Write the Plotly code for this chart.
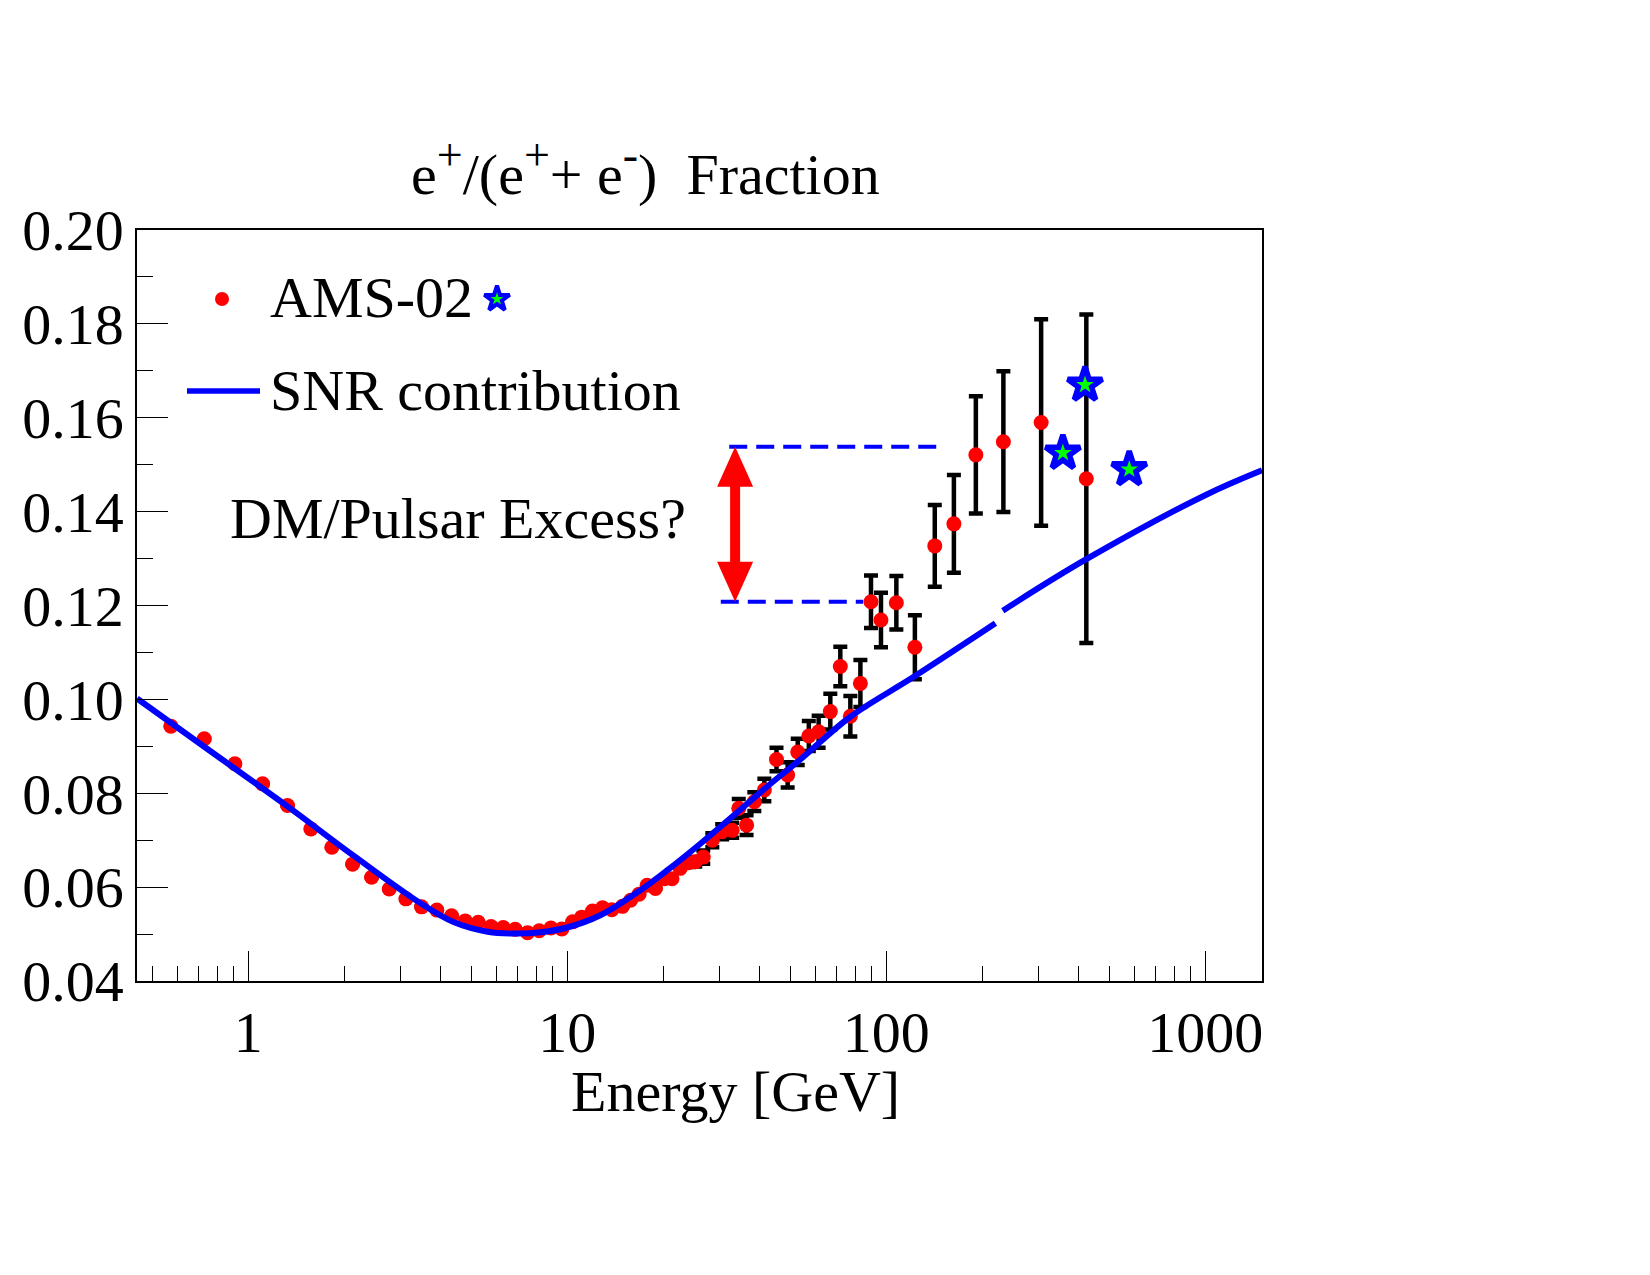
import numpy as np
import plotly.graph_objects as go

# ---------------- data ----------------
E_ams = [0.572, 0.728, 0.908, 1.109, 1.328, 1.572, 1.829, 2.124, 2.436, 2.767,
         3.121, 3.494, 3.903, 4.339, 4.79, 5.26, 5.77, 6.30, 6.87, 7.51,
         8.17, 8.89, 9.62, 10.4, 11.1, 12.0, 12.9, 13.8, 14.9, 15.8,
         16.8, 17.8, 18.9, 20.2, 21.3, 22.6, 24.0, 25.2, 26.7, 28.5,
         30.6, 32.9, 34.5, 36.5, 38.6, 41.5, 45.3, 49.1, 52.8, 57.2,
         61.4, 66.8, 71.8, 77.2, 83.0, 89.6, 96.3, 107.6, 123, 142,
         163, 191, 233, 306, 424]
frac_ams = [0.0943, 0.0916, 0.0863, 0.0820, 0.0774, 0.0724, 0.0685, 0.0649, 0.0621, 0.0596,
            0.0575, 0.0558, 0.0551, 0.0539, 0.0528, 0.0525, 0.0516, 0.0514, 0.0510, 0.0503,
            0.0507, 0.0513, 0.0511, 0.0526, 0.0536, 0.0549, 0.0556, 0.0552, 0.0559, 0.0572,
            0.0585, 0.0604, 0.0597, 0.0618, 0.0618, 0.0640, 0.0652, 0.0654, 0.0664, 0.0700,
            0.0718, 0.0721, 0.0768, 0.0732, 0.0782, 0.0807, 0.0872, 0.0839, 0.0888, 0.0922,
            0.0931, 0.0974, 0.1070, 0.0964, 0.1034, 0.1208, 0.1169, 0.1206, 0.1111, 0.1327,
            0.1374, 0.1521, 0.1549, 0.1590, 0.1470]
err_ams = [0.0] * 36 + [0.0009, 0.0010, 0.0014, 0.0015,
           0.0016, 0.0016, 0.0020, 0.0021, 0.0020, 0.0024, 0.0025, 0.0027, 0.0028, 0.0032,
           0.0034, 0.0038, 0.0042, 0.0043, 0.0050, 0.0056, 0.0058, 0.0057, 0.0068, 0.0087,
           0.0104, 0.0125, 0.0150, 0.0220, 0.0350]
assert len(E_ams) == len(frac_ams) == len(err_ams)

E_star = [358, 420, 578]
frac_star = [0.1525, 0.1670, 0.1490]

E_snr = [0.448, 0.728, 1.328, 2.15, 3.48, 4.42, 5.63, 6.82, 8.27, 10.0,
         12.7, 17.0, 20.6, 26.2, 33.3, 42.3, 53.8, 77.2, 122, 220,
         None, 232, 420, 1000, 1507]
frac_snr = [0.1002, 0.0899, 0.0772, 0.0666, 0.0565, 0.0525, 0.0505, 0.0501, 0.0504, 0.0514,
            0.0540, 0.0594, 0.0636, 0.0693, 0.0753, 0.0814, 0.0872, 0.0963, 0.1048, 0.1162,
            None, 0.1189, 0.1297, 0.1435, 0.1488]

excess_top = 0.1538
excess_bottom = 0.1208
dash_top_E = [32.2, 145]
dash_bottom_E = [30.3, 84.7]
arrow_E = 33.6

x_range = [0.448, 1507]
y_range = [0.04, 0.20]
y_ticks = [0.04, 0.06, 0.08, 0.10, 0.12, 0.14, 0.16, 0.18, 0.20]
x_ticks = [1, 10, 100, 1000]
x_minor = [m * d for d in (0.1, 1, 10, 100) for m in range(2, 10) if 0.448 < m * d < 1507]
y_minor = [0.05, 0.07, 0.09, 0.11, 0.13, 0.15, 0.17, 0.19]

# ---------------- layout geometry ----------------
W, H = 1650, 1275
L, R, T, B = 137, 1262, 230, 981
PW, PH = R - L, B - T
FONT = "Liberation Serif"
FS = 58

def px(xp):
    return (xp - L) / PW

def py(yp):
    return (B - yp) / PH

fig = go.Figure()

# AMS-02 points with error bars
fig.add_trace(go.Scatter(
    x=E_ams, y=frac_ams, mode="markers",
    marker=dict(color="#ff0000", size=15),
    error_y=dict(type="data", array=err_ams, color="black", thickness=4.5, width=7),
    showlegend=False))

# star points
fig.add_trace(go.Scatter(
    x=E_star, y=frac_star, mode="markers",
    marker=dict(symbol="star", size=26, color="#00ff00", line=dict(color="#0000ff", width=5.5)),
    showlegend=False))

# SNR contribution curve
fig.add_trace(go.Scatter(
    x=E_snr, y=frac_snr, mode="lines", connectgaps=False,
    line=dict(color="#0000ff", width=6, shape="spline", smoothing=1.0),
    showlegend=False))

# dashed guide lines
fig.add_trace(go.Scatter(
    x=dash_top_E, y=[excess_top, excess_top], mode="lines",
    line=dict(color="#0000ff", width=4, dash="18px,9px"), showlegend=False))
fig.add_trace(go.Scatter(
    x=dash_bottom_E, y=[excess_bottom, excess_bottom], mode="lines",
    line=dict(color="#0000ff", width=4, dash="18px,9px"), showlegend=False))

# double-headed red arrow (paper x, data y)
lo, hi = np.log10(x_range[0]), np.log10(x_range[1])
xa = (np.log10(arrow_E) - lo) / (hi - lo)
hw = 18 / PW
sw = 5 / PW
hh = 40 * (y_range[1] - y_range[0]) / PH
t, b = excess_top, excess_bottom
path = (f"M {xa},{t} L {xa+hw},{t-hh} L {xa+sw},{t-hh} L {xa+sw},{b+hh} L {xa+hw},{b+hh} "
        f"L {xa},{b} L {xa-hw},{b+hh} L {xa-sw},{b+hh} L {xa-sw},{t-hh} L {xa-hw},{t-hh} Z")
fig.add_shape(type="path", path=path, xref="paper", yref="y",
              fillcolor="#ff0000", line=dict(width=0))

# legend marks (overlay axis in paper-like units)
fig.add_trace(go.Scatter(x=[px(222)], y=[py(299)], mode="markers", xaxis="x2", yaxis="y2",
                         marker=dict(color="#ff0000", size=14), showlegend=False))
fig.add_trace(go.Scatter(x=[px(497)], y=[py(299)], mode="markers", xaxis="x2", yaxis="y2",
                         marker=dict(symbol="star", size=19, color="#00ff00",
                                     line=dict(color="#0000ff", width=4)), showlegend=False))
fig.add_trace(go.Scatter(x=[px(187), px(260)], y=[py(391), py(391)], mode="lines",
                         xaxis="x2", yaxis="y2",
                         line=dict(color="#0000ff", width=5.5), showlegend=False))

ann_font = dict(family=FONT, size=FS, color="black")
sp = '<sup><span style="font-size:46px">{}</span></sup>'
title_text = ("e" + sp.format("+") + "/(e" + sp.format("+") + "+ e" + sp.format("-")
              + ")\u00a0\u00a0Fraction")
fig.add_annotation(text="AMS-02", x=px(268), y=py(298), xref="paper", yref="paper",
                   xanchor="left", yanchor="middle", showarrow=False, font=ann_font)
fig.add_annotation(text="SNR contribution", x=px(268), y=py(390), xref="paper", yref="paper",
                   xanchor="left", yanchor="middle", showarrow=False, font=ann_font)
fig.add_annotation(text="DM/Pulsar Excess?", x=px(228), y=py(518), xref="paper", yref="paper",
                   xanchor="left", yanchor="middle", showarrow=False, font=ann_font)
fig.add_annotation(text=title_text,
                   x=px(645), y=py(168), xref="paper", yref="paper",
                   xanchor="center", yanchor="middle", showarrow=False, font=ann_font)
fig.add_annotation(text="Energy [GeV]", x=px(735), y=py(1091), xref="paper", yref="paper",
                   xanchor="center", yanchor="middle", showarrow=False, font=ann_font)

fig.update_layout(
    width=W, height=H,
    margin=dict(l=L, r=W - R, t=T, b=H - B, pad=0),
    paper_bgcolor="white", plot_bgcolor="white",
    font=dict(family=FONT, size=FS, color="black"),
    xaxis=dict(type="log", range=[lo, hi], tickmode="array", tickvals=x_ticks,
               ticktext=[str(v) for v in x_ticks], ticks="inside", ticklen=30, tickwidth=1.2,
               tickcolor="black", showgrid=False, zeroline=False, showline=True,
               linecolor="black", linewidth=1.5, mirror=True,
               tickfont=dict(family=FONT, size=FS, color="black"),
               minor=dict(tickmode="array", tickvals=x_minor, ticks="inside", ticklen=15,
                          tickwidth=1, tickcolor="black", showgrid=False)),
    yaxis=dict(range=y_range, tickmode="array", tickvals=y_ticks,
               ticktext=[f"{v:.2f}" for v in y_ticks], ticks="inside", ticklen=31, tickwidth=1.2,
               tickcolor="black", showgrid=False, zeroline=False, showline=True,
               linecolor="black", linewidth=1.5, mirror=True,
               tickfont=dict(family=FONT, size=FS, color="black"),
               minor=dict(tickmode="array", tickvals=y_minor, ticks="inside", ticklen=16,
                          tickwidth=1, tickcolor="black", showgrid=False)),
    xaxis2=dict(overlaying="x", range=[0, 1], visible=False, fixedrange=True),
    yaxis2=dict(overlaying="y", range=[0, 1], visible=False, fixedrange=True),
    showlegend=False,
)

fig.write_html("out.html")
